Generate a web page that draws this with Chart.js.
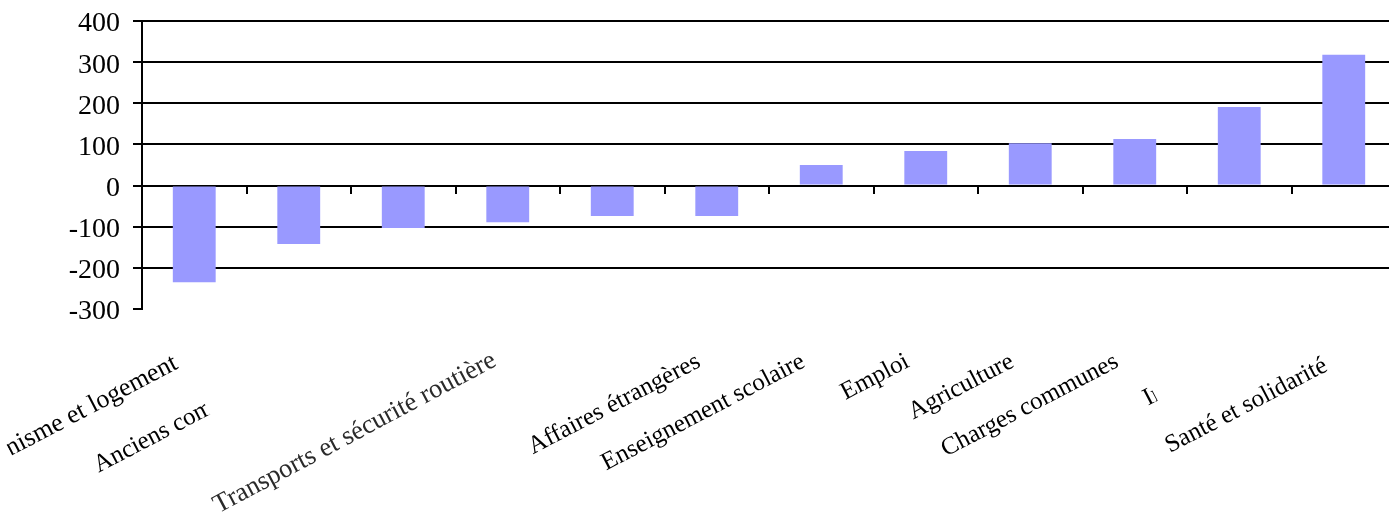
<!DOCTYPE html>
<html>
<head>
<meta charset="utf-8">
<script src="https://cdn.jsdelivr.net/npm/chart.js@4"></script>
<style>
  html, body { margin: 0; padding: 0; overflow: hidden; background: #fff; }
  #wrap { position: relative; width: 1400px; height: 516px; }
</style>
</head>
<body>
<div id="wrap"><canvas id="c"></canvas></div>
<script>
// Budget variation per ministry (millions)
const categories = [
  'Urbanisme et logement',
  'Anciens combattants',
  '',
  'Transports et sécurité routière',
  '',
  'Affaires étrangères',
  'Enseignement scolaire',
  'Emploi',
  'Agriculture',
  'Charges communes',
  'Intérieur',
  'Santé et solidarité'
];
const values = [-235, -142, -103, -89, -74, -74, 50, 84, 103, 113, 191, 318];
const yTicks = [-300, -200, -100, 0, 100, 200, 300, 400];

// per-label drawing tweaks: shift, angle, font size, hidden head / visible length, softness
const labelStyle = {
  0: { dy: 2, size: 26, hide: 54 },
  1: { dy: 10, visible: 126 },
  3: { dx: 5, dy: -1, angle: 28, size: 26.5, blur: 0.7, color: '#2a2a2a' },
  10: { visible: 11 },
  11: { dy: 4 }
};

const SERIF = '"Liberation Serif", "Times New Roman", serif';

// category names written on a slant under the plot
const slantedLabels = {
  id: 'slantedLabels',
  afterDraw(chart) {
    const { ctx, chartArea, scales: { x } } = chart;
    ctx.save();
    ctx.textAlign = 'right';
    ctx.textBaseline = 'alphabetic';
    categories.forEach((name, i) => {
      if (!name) return;
      const st = labelStyle[i] || {};
      ctx.font = (st.size || 25) + 'px ' + SERIF;
      const px = x.getPixelForValue(i) - 15 + (st.dx || 0);
      const py = chartArea.bottom + 57 + (st.dy || 0);
      ctx.save();
      ctx.translate(px, py);
      ctx.rotate(-(st.angle || 27.6) * Math.PI / 180);
      const w = ctx.measureText(name).width;
      if (st.visible || st.hide) {
        const from = -w + (st.hide || 0);
        const len = st.visible ? st.visible : w - (st.hide || 0) + 4;
        ctx.beginPath();
        ctx.rect(from, -40, len, 60);
        ctx.clip();
      }
      if (st.blur) ctx.filter = 'blur(' + st.blur + 'px)';
      ctx.fillStyle = st.color || '#000';
      ctx.fillText(name, 0, 0);
      ctx.restore();
    });
    ctx.restore();
  }
};

new Chart(document.getElementById('c'), {
  type: 'bar',
  data: {
    labels: categories,
    datasets: [{
      data: values,
      backgroundColor: '#9999ff',
      borderWidth: 0,
      categoryPercentage: 1,
      barPercentage: 0.41
    }]
  },
  options: {
    responsive: true,
    maintainAspectRatio: false,
    animation: false,
    layout: { padding: { left: 0, top: 21, right: 4, bottom: 207 } },
    plugins: { legend: { display: false }, tooltip: { enabled: false } },
    scales: {
      x: {
        position: { y: 0 },
        grid: {
          display: true,
          drawOnChartArea: false,
          drawTicks: true,
          tickLength: 8,
          color: '#000',
          lineWidth: 2,
          offset: true
        },
        border: { display: false },
        ticks: { display: false }
      },
      y: {
        min: -300,
        max: 400,
        afterBuildTicks: scale => { scale.ticks = yTicks.map(v => ({ value: v })); },
        afterFit: scale => {
          scale.width = 142;
          scale.paddingTop = 0;
          scale.paddingBottom = 0;
        },
        grid: {
          color: c => (c.tick && c.tick.value === -300) ? 'rgba(0,0,0,0)' : '#000',
          tickColor: '#000',
          lineWidth: 2,
          tickLength: 9
        },
        border: { display: true, color: '#000', width: 2 },
        ticks: {
          padding: 13,
          labelOffset: 3,
          color: '#000',
          font: { family: SERIF, size: 28 }
        }
      }
    }
  },
  plugins: [slantedLabels]
});
</script>
</body>
</html>
